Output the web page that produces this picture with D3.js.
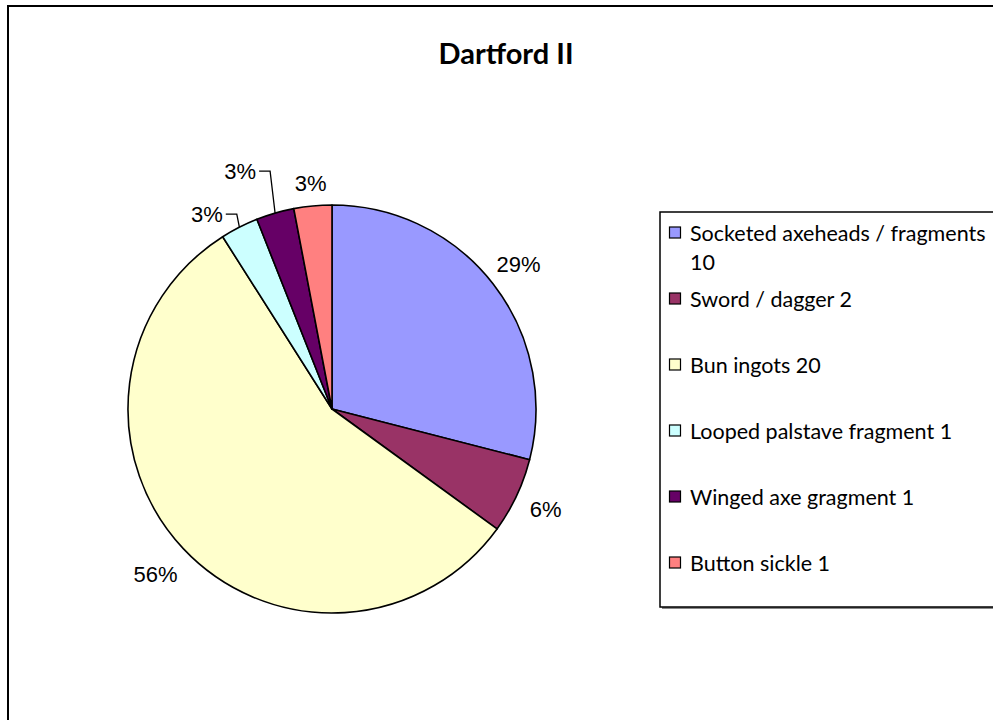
<!DOCTYPE html>
<html>
<head>
<meta charset="utf-8">
<script src="https://cdn.jsdelivr.net/npm/d3@7/dist/d3.min.js"></script>
<style>
  body { margin: 0; background: #fff; }
  svg { display: block; }
</style>
</head>
<body>
<svg id="chart" width="993" height="720"></svg>
<script>
// Dartford II hoard composition
const title = "Dartford II";
const categories = [
  "Socketed axeheads / fragments 10",
  "Sword / dagger 2",
  "Bun ingots 20",
  "Looped palstave fragment 1",
  "Winged axe gragment 1",
  "Button sickle 1"
];
const shares = [29, 6, 56, 3, 3, 3];           // percent of the hoard
const shareLabels = ["29%", "6%", "56%", "3%", "3%", "3%"];
const colors = ["#9999FF", "#993366", "#FFFFCC", "#CCFFFF", "#660066", "#FF8080"];

const svg = d3.select("#chart");
const W = 993, H = 720;

// outer chart frame
svg.append("rect")
  .attr("x", 8).attr("y", 6)
  .attr("width", W + 10).attr("height", H + 10)
  .attr("fill", "#fff").attr("stroke", "#000").attr("stroke-width", 2);

svg.append("text")
  .attr("x", 506).attr("y", 64)
  .attr("text-anchor", "middle")
  .attr("font-family", "Lato, 'Open Sans', sans-serif")
  .attr("font-weight", "bold")
  .attr("font-size", 29)
  .text(title);

// pie
const cx = 332, cy = 409, R = 204;
const pie = d3.pie().sort(null).value(d => d)(shares);
const arc = d3.arc().innerRadius(0).outerRadius(R);

const g = svg.append("g").attr("transform", `translate(${cx},${cy})`);
g.selectAll("path.slice")
  .data(pie)
  .join("path")
  .attr("class", "slice")
  .attr("d", arc)
  .attr("fill", (d, i) => colors[i])
  .attr("stroke", "#000")
  .attr("stroke-width", 1.6)
  .attr("stroke-linejoin", "round");

// data labels: default distance along the slice mid-angle,
// crowded small slices are pushed aside and get a leader line
const labelRadius = [236, 236, 242, 0, 0, 227];
const labelOverride = { 3: { angle: 327.3, r: 231.6 }, 4: { angle: 338.9, r: 255 } };
const midAngle = d => (d.startAngle + d.endAngle) / 2;
const polar = (a, r) => [Math.sin(a) * r, -Math.cos(a) * r];

pie.forEach((d, i) => {
  const ov = labelOverride[i];
  const a = ov ? ov.angle * Math.PI / 180 : midAngle(d);
  const r = ov ? ov.r : labelRadius[i];
  const [lx, ly] = polar(a, r);
  const t = g.append("text")
    .attr("x", lx).attr("y", ly)
    .attr("text-anchor", "middle")
    .attr("dominant-baseline", "central")
    .attr("font-family", "'Liberation Sans', Arial, sans-serif")
    .attr("font-size", 22)
    .attr("fill", "#000")
    .text(shareLabels[i]);
  if (ov) {
    const bb = t.node().getBBox();
    const x0 = bb.x + bb.width + 3;
    const [ex, ey] = polar(midAngle(d), R);
    g.append("path")
      .attr("d", `M${x0},${ly}H${x0 + 11}L${ex},${ey}`)
      .attr("fill", "none")
      .attr("stroke", "#000")
      .attr("stroke-width", 1.3);
  }
});

// legend
const lgX = 660, lgY = 212, lgW = 340, lgH = 395;
svg.append("rect")
  .attr("x", lgX + 2).attr("y", lgY + 2)
  .attr("width", lgW).attr("height", lgH)
  .attr("fill", "#888");
svg.append("rect")
  .attr("x", lgX).attr("y", lgY)
  .attr("width", lgW).attr("height", lgH)
  .attr("fill", "#fff").attr("stroke", "#000").attr("stroke-width", 1.5);

const rowY = d3.scalePoint().domain(d3.range(categories.length)).range([232.5, 562.5]);
const maxTextW = 300;
categories.forEach((name, i) => {
  const y = rowY(i);
  svg.append("rect")
    .attr("x", 669.5).attr("y", y - 5.5)
    .attr("width", 11).attr("height", 11)
    .attr("fill", colors[i]).attr("stroke", "#000").attr("stroke-width", 1.2);
  const t = svg.append("text")
    .attr("x", 690).attr("y", y)
    .attr("dominant-baseline", "central")
    .attr("font-family", "Lato, 'Open Sans', sans-serif")
    .attr("font-size", 21.5)
    .attr("fill", "#000");
  // simple word wrap inside the legend box
  const words = name.split(" ");
  let line = [];
  let tspan = t.append("tspan").attr("x", 690).attr("dy", 0);
  words.forEach(w => {
    line.push(w);
    tspan.text(line.join(" "));
    if (tspan.node().getComputedTextLength() > maxTextW && line.length > 1) {
      line.pop();
      tspan.text(line.join(" "));
      line = [w];
      tspan = t.append("tspan").attr("x", 690).attr("dy", 29).text(w);
    }
  });
});
</script>
</body>
</html>
